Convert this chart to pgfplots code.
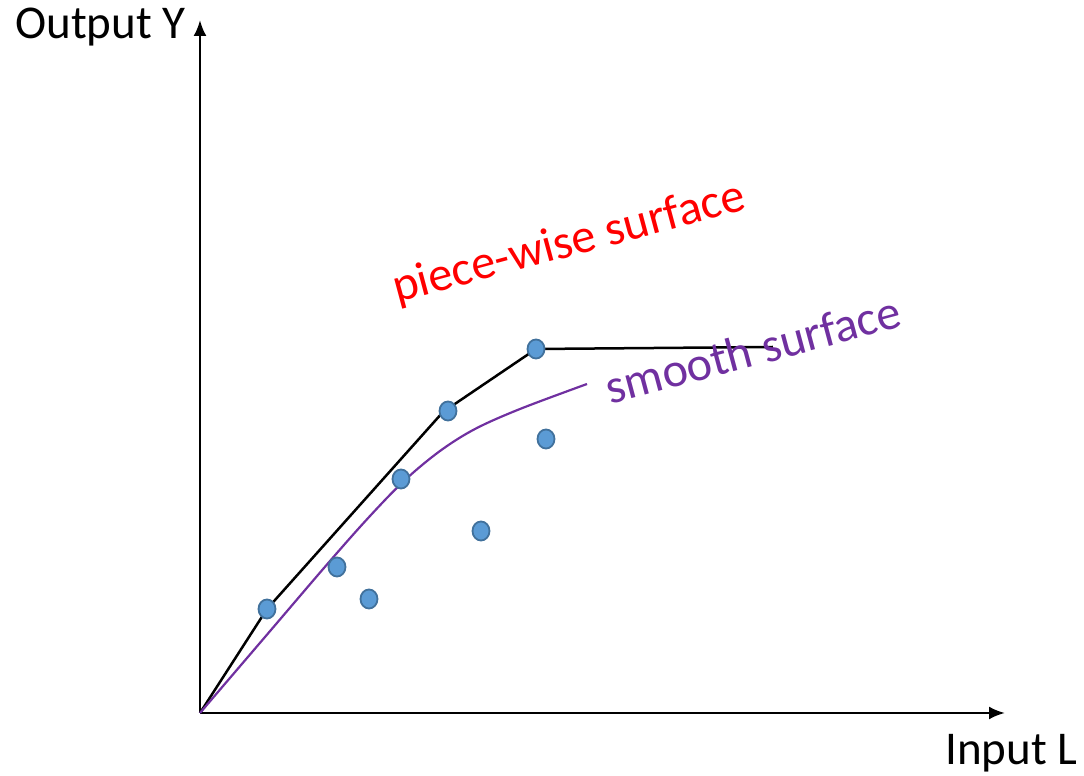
\documentclass[border=0pt]{standalone}
\usepackage{pgfplots}
\pgfplotsset{compat=1.18}
\usetikzlibrary{arrows.meta}
\usepackage{fontspec}
\setmainfont{Carlito}
\definecolor{ptfill}{HTML}{5B9BD5}
\definecolor{ptedge}{HTML}{41719C}
\definecolor{officepurple}{HTML}{7030A0}
\begin{document}
\begin{tikzpicture}
\begin{axis}[
  scale only axis,
  width=402.5pt, height=346.5pt,
  xmin=0, xmax=805, ymin=0, ymax=693,
  axis lines=left,
  axis line style={line width=1.25pt, -{Latex[length=8pt,width=6.5pt]}},
  xtick=\empty, ytick=\empty,
  clip=false,
  font=\fontsize{23.5}{28}\selectfont,
]
% piece-wise linear surface
\addplot[black, line width=1.25pt, line join=round] coordinates {
  (0,0) (67,104) (243,301) (336,364) (573,366)
};
% smooth surface
\addplot[officepurple, line width=1.1pt, smooth, tension=0.55] coordinates {
  (0,0) (65,76) (130,152) (170,197) (205,233) (240,262) (275,284) (320,304) (387,329)
};
% observations
\addplot[only marks, mark=*, mark size=4.25pt,
  mark options={fill=ptfill, draw=ptedge, line width=0.9pt, yscale=1.12}] coordinates {
  (67,104) (137,146) (169,114) (201,234) (248,302) (281,182) (336,364) (346,274)
};
\node[anchor=base west, inner sep=0pt] at (axis cs:-185,674) {Output Y};
\node[anchor=base west, inner sep=0pt] at (axis cs:745,-52) {Input L};
\node[anchor=base west, inner sep=0pt, rotate=15, text=red, font=\fontsize{24.2}{29}\selectfont] at (axis cs:197,410) {piece-wise surface};
\node[anchor=base west, inner sep=0pt, rotate=15, text=officepurple, font=\fontsize{24.2}{29}\selectfont] at (axis cs:410,308) {smooth surface};
\end{axis}
\pgfresetboundingbox
\path[use as bounding box] (-100pt,-31.5pt) rectangle (442pt,356.5pt);
\end{tikzpicture}
\end{document}
